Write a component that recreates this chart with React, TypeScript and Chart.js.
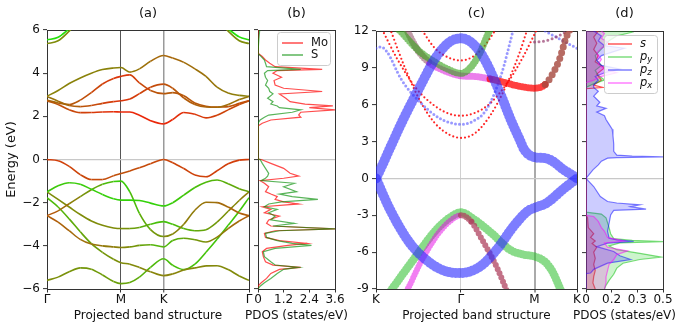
import React, { useEffect, useRef } from 'react';
import { Chart, registerables } from 'chart.js';
Chart.register(...registerables);

// ---------------- (a) band structure ----------------
const HS_A_LABELS = ['Γ', 'M', 'K', 'Γ'];
const HS_A_POS = [0, 1, 1.577, 2.732];
const K_PATH_A = [0, 0.15, 0.3, 0.45, 0.6, 0.75, 0.9, 1.0, 1.12, 1.25, 1.4, 1.577, 1.7, 1.85, 2.0, 2.15, 2.3, 2.45, 2.6, 2.732];
const CB_D = [2.93, 3.2, 3.52, 3.78, 4.0, 4.17, 4.24, 4.26, 4.05, 4.2, 4.55, 4.82, 4.7, 4.5, 4.2, 3.85, 3.35, 3.08, 2.97, 2.93];
const CB_A = [2.75, 2.62, 2.55, 2.75, 3.1, 3.5, 3.75, 3.85, 3.92, 3.55, 3.2, 3.05, 3.1, 2.95, 2.62, 2.47, 2.43, 2.45, 2.6, 2.72];
const CB_B = [2.92, 2.7, 2.5, 2.45, 2.5, 2.6, 2.68, 2.72, 2.8, 3.05, 3.35, 3.49, 3.3, 2.85, 2.55, 2.43, 2.42, 2.55, 2.78, 2.92];
const CB_C = [2.72, 2.55, 2.3, 2.17, 2.18, 2.2, 2.21, 2.2, 2.2, 2.05, 1.8, 1.65, 1.85, 2.18, 2.1, 1.93, 2.05, 2.3, 2.55, 2.72];
const CB_UP1 = [5.54, 5.66, 6.05, null, null, null, null, null, null, null, null, null, null, null, null, null, null, 6.05, 5.68, 5.54];
const CB_UP2 = [5.37, 5.5, 5.95, 6.5, null, null, null, null, null, null, null, null, null, null, null, null, 6.5, 5.95, 5.5, 5.37];
const VB_1 = [0, -0.06, -0.32, -0.7, -0.93, -0.93, -0.75, -0.65, -0.53, -0.38, -0.2, 0, -0.15, -0.42, -0.72, -0.8, -0.52, -0.2, -0.03, 0];
const VB_G = [-1.5, -1.22, -1.08, -1.15, -1.38, -1.62, -1.82, -1.88, -1.88, -1.9, -2.02, -2.15, -2.0, -1.65, -1.3, -1.05, -0.95, -1.12, -1.35, -1.5];
const VB_X = [-2.6, -2.38, -2.05, -1.72, -1.4, -1.15, -1.02, -1.0, -1.5, -2.5, -3.25, -3.57, -3.45, -3.0, -2.35, -1.98, -2.0, -2.2, -2.48, -2.6];
const VB_Y = [-1.5, -1.85, -2.2, -2.55, -2.85, -3.05, -3.17, -3.2, -3.2, -3.15, -3.0, -2.88, -3.0, -3.2, -3.3, -3.25, -2.9, -2.4, -1.9, -1.5];
const VB_W = [-2.6, -2.9, -3.3, -3.7, -3.92, -4.0, -4.05, -4.08, -4.05, -3.98, -3.95, -4.05, -3.75, -3.65, -3.72, -3.82, -3.6, -3.2, -2.85, -2.6];
const VB_Z1 = [-1.77, -2.2, -2.75, -3.35, -3.9, -4.3, -4.62, -4.78, -4.85, -5.0, -5.2, -5.38, -5.3, -5.12, -5.02, -4.93, -4.92, -5.1, -5.4, -5.6];
const VB_Z2 = [-5.6, -5.45, -5.2, -5.02, -5.08, -5.35, -5.65, -5.75, -5.7, -5.45, -5.0, -4.6, -4.9, -5.1, -4.85, -4.3, -3.7, -3.05, -2.4, -1.77];
// Mo weight of each band at Γ, M, K, Γ
const W_CB_D = [0.5, 0.5, 0.65, 0.5];
const W_CB_A = [0.6, 0.9, 0.7, 0.75];
const W_CB_B = [0.55, 0.9, 0.75, 0.55];
const W_CB_C = [0.7, 0.95, 0.95, 0.75];
const W_CB_UP1 = [0.03, 0.03, 0.03, 0.03];
const W_CB_UP2 = [0.45, 0.45, 0.45, 0.45];
const W_VB_1 = [0.85, 0.75, 0.8, 0.85];
const W_VB_G = [0.15, 0.1, 0.1, 0.35];
const W_VB_X = [0.75, 0.1, 0.45, 0.7];
const W_VB_Y = [0.45, 0.45, 0.15, 0.55];
const W_VB_W = [0.7, 0.5, 0.2, 0.7];
const W_VB_Z1 = [0.2, 0.45, 0.5, 0.45];
const W_VB_Z2 = [0.45, 0.35, 0.2, 0.15];

// ---------------- (b) PDOS Mo / S ----------------
const B_ENERGY = [6.0, 5.6, 5.45, 4.95, 4.92, 4.77, 4.61, 4.46, 4.3, 4.18, 4.12, 4.0, 3.81, 3.66, 3.45, 3.3, 3.15, 3.04, 2.84, 2.68, 2.57, 2.48, 2.4, 2.3, 2.19, 2.06, 1.96, 1.83, 1.68, 1.55, 0.02, 0, -0.18, -0.41, -0.64, -0.77, -0.87, -0.98, -1.1, -1.26, -1.49, -1.6, -1.72, -1.85, -1.96, -2.06, -2.19, -2.31, -2.47, -2.62, -2.8, -2.96, -3.08, -3.21, -3.3, -3.42, -3.61, -3.76, -3.89, -3.98, -4.12, -4.27, -4.5, -4.74, -4.89, -5.0, -5.09, -5.28, -5.51, -5.71, -5.87, -6.0];
const B_MO = [0, 0, 0, 0, 0, 0.2, 0.35, 0.55, 0.8, 3.0, 0.9, 0.7, 1.1, 0.75, 0.8, 1.2, 3.0, 1.0, 1.3, 1.5, 2.2, 3.5, 2.4, 3.6, 2.0, 1.9, 2.0, 0.6, 0.2, 0, 0, 0.15, 0.6, 1.2, 1.5, 1.9, 1.2, 0.1, 0.3, 0.5, 0.35, 0.6, 0.9, 0.8, 1.2, 1.9, 0.2, 0.6, 0.3, 1.0, 0.5, 0.4, 0.6, 3.6, 0.8, 0.3, 0.35, 1.0, 2.3, 1.4, 0.4, 0.2, 0.25, 0.35, 0.7, 2.0, 1.0, 0.6, 0.4, 0.15, 0, 0];
const B_S = [0.08, 0.04, 0, 0, 0, 0.15, 0.3, 0.35, 0.4, 2.0, 0.45, 0.3, 0.35, 0.45, 0.35, 0.5, 0.55, 0.7, 0.45, 0.7, 0.6, 0.9, 1.0, 2.0, 1.6, 0.5, 0.3, 0.1, 0, 0, 0, 0.1, 0.2, 0.35, 0.5, 0.45, 0.35, 0.15, 1.7, 1.2, 1.8, 1.0, 1.6, 2.8, 1.1, 0.5, 0.3, 0.9, 0.5, 0.8, 0.6, 1.7, 0.7, 3.6, 1.0, 0.35, 0.4, 0.9, 1.6, 2.5, 0.8, 0.25, 0.3, 0.6, 0.8, 1.9, 1.2, 0.9, 0.6, 0.3, 0.1, 0];
const B_TICKS = [0, 1.2, 2.4, 3.6];
const B_TICK_LABELS = ['0', '1.2', '2.4', '3.6'];

// ---------------- (c) fat bands ----------------
const HS_C_LABELS = ['K', 'Γ', 'M', 'K'];
const HS_C_POS = [0, 1.1547, 2.1547, 2.732];
const C_PISTAR_K = [0, 0.08, 0.2, 0.37, 0.6, 0.82, 1.0, 1.1547, 1.3, 1.456, 1.69, 1.83, 1.95, 2.02, 2.1547, 2.3, 2.4, 2.46, 2.55, 2.65, 2.732];
const C_PISTAR_E = [0, 1.0, 2.6, 4.8, 7.5, 9.9, 11.1, 11.4, 11.05, 9.9, 6.9, 4.8, 3.2, 2.3, 1.72, 1.65, 1.4, 1.14, 0.7, 0.33, 0];
const C_PI_K = [0, 0.19, 0.46, 0.74, 0.955, 1.1547, 1.415, 1.64, 1.87, 2.06, 2.1547, 2.32, 2.54, 2.732];
const C_PI_E = [0, -2.53, -5.26, -6.9, -7.57, -7.7, -7.17, -5.8, -3.9, -2.67, -2.4, -2.0, -0.9, 0];
const C_PY_K = [0.1, 0.23, 0.51, 0.82, 1.0, 1.1547, 1.3, 1.56, 1.82, 2.0, 2.1547, 2.3, 2.4, 2.5, 2.56];
const C_PY_E = [-10, -8.9, -6.6, -4.17, -3.2, -2.75, -3.2, -4.4, -5.8, -6.2, -6.35, -6.8, -7.6, -8.94, -9.8];
const C_PX_K = [0.35, 0.44, 0.6, 0.82, 1.0, 1.1547, 1.3, 1.415, 1.64, 1.76, 1.82];
const C_PX_E = [-9.8, -8.9, -6.9, -4.7, -3.5, -3.0, -3.55, -4.7, -7.2, -8.9, -9.8];
const C_SU_K = [0.4, 0.55, 0.73, 0.9, 1.05, 1.1547, 1.35, 1.55, 1.75, 1.95, 2.1547, 2.3, 2.4, 2.5, 2.58, 2.66];
const C_SU_E = [12.3, 10.6, 9.4, 8.85, 8.5, 8.35, 8.3, 8.1, 7.8, 7.5, 7.35, 7.65, 8.5, 9.8, 11.4, 12.4];
const C_SG_K = [0.22, 0.33, 0.45, 0.6, 0.82, 1.05, 1.1547, 1.28, 1.41, 1.54, 1.6];
const C_SG_E = [12.5, 12.0, 11.2, 10.3, 9.4, 8.7, 8.55, 9.0, 10.2, 12.0, 12.6];
const C_R1_K = [0.19, 0.4, 0.6, 0.8, 1.0, 1.1547, 1.35, 1.55, 1.75, 1.95, 2.06];
const C_R1_E = [12.2, 8.9, 6.3, 4.5, 3.55, 3.3, 3.7, 5.1, 7.3, 10.2, 12.2];
const C_R2_K = [0.06, 0.3, 0.55, 0.8, 1.0, 1.1547, 1.35, 1.55, 1.8, 2.0, 2.2];
const C_R2_E = [12.4, 9.6, 7.3, 5.9, 5.25, 5.1, 5.35, 6.1, 7.9, 9.9, 12.3];
const C_R3_K = [0.6, 0.8, 1.0, 1.1547, 1.3, 1.45, 1.65];
const C_R3_E = [12.3, 10.6, 9.8, 9.6, 9.85, 10.6, 12.3];
const C_B1_K = [0, 0.07, 0.15, 0.35, 0.6, 0.85, 1.0, 1.1547, 1.3, 1.5, 1.7, 1.87];
const C_B1_E = [10.6, 10.7, 10.3, 8.0, 6.2, 4.95, 4.55, 4.4, 4.6, 5.6, 8.4, 12.2];
const C_B2_K = [2.3, 2.45, 2.6, 2.732];
const C_B2_E = [12.0, 11.5, 11.0, 10.6];
const C_P2_K = [2.1547, 2.3, 2.45, 2.6, 2.7];
const C_P2_E = [11.1, 11.2, 11.5, 12.0, 12.3];

// ---------------- (d) orbital PDOS ----------------
const D_S_E = [12, 11.5, 11.0, 10.5, 10.0, 9.5, 9.0, 8.5, 8.0, 7.6, 7.4, 7.3, -3.0, -3.2, -4.0, -4.5, -4.8, -5.1, -5.3, -5.6, -6.0, -6.5, -7.0, -7.5, -8.0, -8.5, -9];
const D_S = [0.08, 0.05, 0.07, 0.05, 0.08, 0.06, 0.12, 0.07, 0.1, 0.05, 0.11, 0, 0, 0.01, 0.015, 0.05, 0.03, 0.06, 0.04, 0.07, 0.05, 0.06, 0.05, 0.06, 0.05, 0.045, 0.06];
const D_PY_E = [12, 11.9, 11.6, 11.2, 10.8, 10.4, 10.0, 9.6, 9.2, 8.8, 8.4, 8.0, 7.7, 7.4, -2.75, -2.9, -3.2, -3.6, -4.0, -4.5, -4.9, -5.05, -5.15, -5.25, -5.5, -5.8, -6.1, -6.4, -6.6, -6.9, -7.3, -7.8, -8.3, -8.7, -9];
const D_PY = [0.28, 0.3, 0.2, 0.15, 0.12, 0.09, 0.06, 0.07, 0.1, 0.06, 0.08, 0.12, 0.05, 0, 0, 0.1, 0.13, 0.14, 0.15, 0.16, 0.18, 0.3, 0.5, 0.22, 0.15, 0.2, 0.35, 0.49, 0.35, 0.24, 0.2, 0.18, 0.15, 0.13, 0.12];
const D_PZ_E = [12, 11.6, 11.2, 10.8, 10.6, 10.4, 10.0, 9.6, 9.2, 8.9, 8.6, 8.3, 8.0, 7.6, 7.4, 7.1, 6.7, 6.2, 5.9, 5.7, 5.4, 5.1, 4.8, 4.4, 4.0, 3.5, 2.8, 2.2, 1.9, 1.82, 1.76, 1.7, 1.65, 1.4, 1.1, 0.7, 0.3, 0, -0.66, -1.48, -1.88, -2.0, -2.15, -2.3, -2.5, -2.6, -2.97, -3.65, -4.3, -4.86, -5.0, -5.13, -5.27, -5.55, -5.95, -6.3, -6.6, -6.9, -7.4, -7.7, -7.75, -9];
const D_PZ = [0.05, 0.1, 0.08, 0.12, 0.25, 0.2, 0.1, 0.07, 0.1, 0.22, 0.12, 0.06, 0.08, 0.05, 0.05, 0.08, 0.05, 0.09, 0.07, 0.13, 0.07, 0.12, 0.13, 0.15, 0.17, 0.175, 0.18, 0.18, 0.2, 0.3, 0.5, 0.2, 0.14, 0.1, 0.08, 0.045, 0.02, 0, 0.05, 0.093, 0.14, 0.2, 0.35, 0.29, 0.39, 0.18, 0.16, 0.15, 0.14, 0.15, 0.2, 0.31, 0.14, 0.07, 0.18, 0.22, 0.29, 0.14, 0.05, 0.03, 0, 0];
const D_PX_E = [12, 11.8, 11.4, 11.0, 10.6, 10.2, 9.7, 9.3, 8.9, 8.6, 8.3, 8.0, 7.8, -3.0, -3.1, -3.5, -4.0, -4.3, -4.8, -5.1, -5.25, -5.6, -5.9, -6.2, -6.6, -7.0, -7.5, -8.0, -8.5, -9];
const D_PX = [0.1, 0.12, 0.1, 0.15, 0.1, 0.07, 0.1, 0.08, 0.12, 0.2, 0.1, 0.05, 0, 0, 0.05, 0.08, 0.1, 0.12, 0.14, 0.25, 0.12, 0.14, 0.27, 0.2, 0.18, 0.15, 0.14, 0.13, 0.13, 0.12];
const D_TICKS = [0, 1 / 6, 1 / 3, 0.5];
const D_TICK_LABELS = ['0', '0.2', '0.3', '0.5'];

// ---------------- helpers ----------------
const H = 328;
const FONT = 'DejaVu Sans';
const INK = '#111111';
const SPINE = '#333333';

const xy = (xs: number[], ys: (number | null)[]) => xs.map((x, i) => ({ x, y: ys[i] }));
const yx = (es: number[], vs: number[]) => es.map((e, i) => ({ x: vs[i], y: e }));

function moColor(w: number) {
  return `rgb(${Math.round(30 + 215 * w)},${Math.round(230 - 200 * w)},10)`;
}
function weightAt(k: number, w: number[]) {
  for (let i = 0; i < HS_A_POS.length - 1; i++) {
    const a = HS_A_POS[i], b = HS_A_POS[i + 1];
    if (k <= b) return w[i] + ((w[i + 1] - w[i]) * (k - a)) / (b - a);
  }
  return w[w.length - 1];
}

const zeroGrid = (ctx: any) => (ctx.tick && ctx.tick.value === 0 ? '#c8c8c8' : 'rgba(0,0,0,0)');

// top and right spines; right box mirrors the left axis width so titles centre on the plot
function frameAxes(side: number) {
  return {
    xTop: {
      type: 'linear', position: 'top', grid: { display: false, drawTicks: false },
      ticks: { display: false }, border: { display: true, color: SPINE, width: 1 },
      afterFit: (s: any) => { s.height = 0; },
    },
    yRight: {
      type: 'linear', position: 'right', grid: { display: false, drawTicks: false },
      ticks: { display: false }, border: { display: true, color: SPINE, width: 1 },
      afterFit: (s: any) => { s.width = side; },
    },
  };
}

function titles(top: string, bottom: string, padBottom: number) {
  return {
    legend: { display: false },
    tooltip: { enabled: false },
    title: { display: true, text: top, color: INK, font: { family: FONT, size: 13, weight: 'normal' }, padding: { top: 6, bottom: padBottom } },
    subtitle: { display: true, position: 'bottom', text: bottom, color: INK, font: { family: FONT, size: 12, weight: 'normal' }, padding: { top: 0, bottom: 4.6 } },
  };
}

function makeLegend(id: string, box: any, italic: boolean) {
  return {
    id,
    afterDatasetsDraw(chart: any) {
      const { ctx, chartArea } = chart;
      const x0 = Math.round(chartArea.right - box.right - box.w);
      const y0 = Math.round(chartArea.top + box.top);
      ctx.save();
      ctx.beginPath();
      if (ctx.roundRect) ctx.roundRect(x0 + 0.5, y0 + 0.5, box.w, box.h, 3);
      else ctx.rect(x0 + 0.5, y0 + 0.5, box.w, box.h);
      ctx.fillStyle = 'rgba(255,255,255,0.8)';
      ctx.fill();
      ctx.strokeStyle = '#cccccc';
      ctx.lineWidth = 1;
      ctx.stroke();
      chart.data.datasets.forEach((ds: any, i: number) => {
        const y = y0 + box.first + i * box.step;
        ctx.strokeStyle = ds.borderColor;
        ctx.lineWidth = 1.5;
        ctx.beginPath();
        ctx.moveTo(x0 + box.l0, y);
        ctx.lineTo(x0 + box.l1, y);
        ctx.stroke();
        const parts = String(ds.label).split('_');
        ctx.fillStyle = INK;
        ctx.textBaseline = 'middle';
        ctx.textAlign = 'left';
        ctx.font = `${italic ? 'italic ' : ''}11.5px "${FONT}"`;
        ctx.fillText(parts[0], x0 + box.tx, y);
        if (parts[1]) {
          const mw = ctx.measureText(parts[0]).width;
          ctx.font = `${italic ? 'italic ' : ''}8.5px "${FONT}"`;
          ctx.fillText(parts[1], x0 + box.tx + mw, y + 3);
        }
      });
      ctx.restore();
    },
  };
}

const tickFont = { family: FONT, size: 12 };
const noPad = { padding: { left: 0, right: 0, top: 0, bottom: 0 } };

// ---------------- configs ----------------
function configA() {
  const bands = [
    { e: CB_D, w: W_CB_D }, { e: CB_A, w: W_CB_A }, { e: CB_B, w: W_CB_B }, { e: CB_C, w: W_CB_C },
    { e: CB_UP2, w: W_CB_UP2 }, { e: CB_UP1, w: W_CB_UP1 },
    { e: VB_Z2, w: W_VB_Z2 }, { e: VB_Z1, w: W_VB_Z1 }, { e: VB_W, w: W_VB_W }, { e: VB_Y, w: W_VB_Y },
    { e: VB_X, w: W_VB_X }, { e: VB_G, w: W_VB_G }, { e: VB_1, w: W_VB_1 },
  ];
  return {
    type: 'line',
    data: {
      datasets: bands.map((b, i) => ({
        data: xy(K_PATH_A, b.e),
        borderColor: moColor(b.w[0]),
        borderWidth: 1.6,
        pointRadius: 0,
        cubicInterpolationMode: 'monotone',
        spanGaps: false,
        clip: 0,
        order: bands.length - i,
        segment: {
          borderColor: (ctx: any) => moColor(weightAt((ctx.p0.parsed.x + ctx.p1.parsed.x) / 2, b.w)),
        },
      })),
    },
    options: {
      responsive: false, animation: false, devicePixelRatio: 1, events: [],
      layout: noPad,
      plugins: titles('(a)', 'Projected band structure', 8.4),
      scales: {
        x: {
          type: 'linear', position: 'bottom', min: 0, max: 2.732,
          afterBuildTicks: (s: any) => { s.ticks = HS_A_POS.map((v) => ({ value: v })); },
          ticks: { callback: (_v: any, i: number) => HS_A_LABELS[i], font: tickFont, color: INK, padding: 0, autoSkip: false, maxRotation: 0 },
          grid: {
            color: (ctx: any) => (ctx.index === 1 ? '#555555' : ctx.index === 2 ? '#9a9a9a' : 'rgba(0,0,0,0)'),
            lineWidth: (ctx: any) => (ctx.index === 2 ? 1.5 : 1),
            tickLength: 3.5, tickColor: SPINE, tickWidth: 1,
          },
          border: { color: SPINE, width: 1 },
          afterFit: (s: any) => { s.height = 20; },
        },
        y: {
          type: 'linear', position: 'left', min: -6, max: 6,
          ticks: { stepSize: 2, font: tickFont, color: INK, padding: 3, callback: (v: any) => String(v).replace('-', '−') },
          grid: { color: zeroGrid, lineWidth: 1.2, tickLength: 4, tickColor: SPINE, tickWidth: 1 },
          border: { color: SPINE, width: 1 },
          title: { display: true, text: 'Energy (eV)', color: INK, font: { family: FONT, size: 13 }, padding: { top: 4, bottom: 0 } },
          afterFit: (s: any) => { s.width = 47; },
        },
        ...frameAxes(47),
      },
    },
  };
}

function dosYAxis(min: number, max: number, step: number, width: number) {
  return {
    type: 'linear', position: 'left', min, max,
    ticks: { display: false, stepSize: step },
    grid: { color: zeroGrid, lineWidth: 1.2, tickLength: 4, tickColor: SPINE, tickWidth: 1 },
    border: { color: SPINE, width: 1 },
    afterFit: (s: any) => { s.width = width; },
  };
}
function dosXAxis(max: number, ticks: number[], labels: string[]) {
  return {
    type: 'linear', position: 'bottom', min: 0, max,
    afterBuildTicks: (s: any) => { s.ticks = ticks.map((v) => ({ value: v })); },
    ticks: { callback: (_v: any, i: number) => labels[i], font: tickFont, color: INK, padding: 0, autoSkip: false, maxRotation: 0 },
    grid: { drawOnChartArea: false, tickLength: 3.5, tickColor: SPINE, tickWidth: 1 },
    border: { color: SPINE, width: 1 },
    afterFit: (s: any) => { s.height = 20; },
  };
}

function configB() {
  return {
    type: 'line',
    data: {
      datasets: [
        { label: 'Mo', data: yx(B_ENERGY, B_MO), borderColor: 'rgba(255,0,0,0.7)', borderWidth: 1.2, pointRadius: 0, tension: 0, clip: 0, order: 2 },
        { label: 'S', data: yx(B_ENERGY, B_S), borderColor: 'rgba(0,140,0,0.65)', borderWidth: 1.2, pointRadius: 0, tension: 0, clip: 0, order: 1 },
      ],
    },
    options: {
      indexAxis: 'y',
      responsive: false, animation: false, devicePixelRatio: 1, events: [],
      layout: noPad,
      plugins: titles('(b)', 'PDOS (states/eV)', 8.4),
      scales: { x: dosXAxis(3.6, B_TICKS, B_TICK_LABELS), y: dosYAxis(-6, 6, 2, 32), ...frameAxes(32) },
    },
    plugins: [makeLegend('legB', { right: 5, top: 2, w: 53, h: 33, first: 11, step: 12, l0: 5, l1: 26, tx: 34 }, false)],
  };
}

function dotted(color: string, width: number, gap: number) {
  return { borderColor: color, borderWidth: width, borderDash: [0, gap], borderCapStyle: 'round', borderJoinStyle: 'round' };
}

function configC() {
  const bands = [
    { k: C_R1_K, e: C_R1_E, st: dotted('rgba(255,0,0,0.85)', 2.2, 4) },
    { k: C_R2_K, e: C_R2_E, st: dotted('rgba(255,0,0,0.85)', 2.2, 4) },
    { k: C_R3_K, e: C_R3_E, st: dotted('rgba(255,0,0,0.85)', 2.2, 4) },
    { k: C_B1_K, e: C_B1_E, st: dotted('rgba(70,70,255,0.55)', 3, 4) },
    { k: C_B2_K, e: C_B2_E, st: dotted('rgba(70,70,255,0.55)', 3, 4) },
    { k: C_P2_K, e: C_P2_E, st: dotted('rgba(150,60,110,0.7)', 3, 4.5) },
    {
      k: C_SU_K, e: C_SU_E, st: dotted('rgba(215,0,215,0.5)', 7, 3),
      seg: {
        borderColor: (ctx: any) => {
          const xm = (ctx.p0.parsed.x + ctx.p1.parsed.x) / 2;
          return xm < 0.75 ? 'rgba(150,90,110,0.6)' : xm < 1.6 ? 'rgba(215,0,215,0.5)' : xm < 2.25 ? 'rgba(255,0,0,0.75)' : 'rgba(165,70,60,0.8)';
        },
        borderDash: (ctx: any) => (ctx.p0.parsed.x >= 2.2 ? [0, 6] : undefined),
      },
    },
    { k: C_SG_K, e: C_SG_E, st: dotted('rgba(50,160,20,0.6)', 7, 3) },
    { k: C_PY_K, e: C_PY_E, st: dotted('rgba(40,190,40,0.55)', 8, 3) },
    {
      k: C_PX_K, e: C_PX_E, st: dotted('rgba(230,0,230,0.5)', 6, 3),
      seg: {
        borderColor: (ctx: any) => (ctx.p0.parsed.x >= 1.1547 ? 'rgba(175,65,95,0.75)' : undefined),
        borderDash: (ctx: any) => (ctx.p0.parsed.x >= 1.3 ? [0, 4.5] : undefined),
      },
    },
    { k: C_PI_K, e: C_PI_E, st: dotted('rgba(45,45,255,0.62)', 10, 3.5) },
    { k: C_PISTAR_K, e: C_PISTAR_E, st: dotted('rgba(45,45,255,0.62)', 10, 3.5) },
  ];
  return {
    type: 'line',
    data: {
      datasets: bands.map((b: any, i) => ({
        data: xy(b.k, b.e),
        ...b.st,
        segment: b.seg || {},
        pointRadius: 0,
        cubicInterpolationMode: 'monotone',
        clip: 0,
        order: bands.length - i,
      })),
    },
    options: {
      responsive: false, animation: false, devicePixelRatio: 1, events: [],
      layout: noPad,
      plugins: titles('(c)', 'Projected band structure', 9.4),
      scales: {
        x: {
          type: 'linear', position: 'bottom', min: 0, max: 2.732,
          afterBuildTicks: (s: any) => { s.ticks = HS_C_POS.map((v) => ({ value: v })); },
          ticks: { callback: (_v: any, i: number) => HS_C_LABELS[i], font: tickFont, color: INK, padding: 0, autoSkip: false, maxRotation: 0 },
          grid: {
            color: (ctx: any) => (ctx.index === 1 ? '#d0d0d0' : ctx.index === 2 ? '#aaaaaa' : 'rgba(0,0,0,0)'),
            lineWidth: (ctx: any) => (ctx.index === 2 ? 2 : 1),
            tickLength: 3.5, tickColor: SPINE, tickWidth: 1,
          },
          border: { color: SPINE, width: 1 },
          afterFit: (s: any) => { s.height = 20; },
        },
        y: {
          type: 'linear', position: 'left', min: -9, max: 12,
          ticks: { stepSize: 3, font: tickFont, color: INK, padding: 3 },
          grid: { color: zeroGrid, lineWidth: 1.2, tickLength: 4, tickColor: SPINE, tickWidth: 1 },
          border: { color: SPINE, width: 1 },
          afterFit: (s: any) => { s.width = 30; },
        },
        ...frameAxes(30),
      },
    },
  };
}

function configD() {
  const series = [
    { label: 's', e: D_S_E, v: D_S, line: 'rgba(255,0,0,0.65)', fill: 'rgba(255,0,0,0.2)' },
    { label: 'p_y', e: D_PY_E, v: D_PY, line: 'rgba(0,190,0,0.5)', fill: 'rgba(0,200,0,0.2)' },
    { label: 'p_z', e: D_PZ_E, v: D_PZ, line: 'rgba(0,0,255,0.5)', fill: 'rgba(0,0,255,0.2)' },
    { label: 'p_x', e: D_PX_E, v: D_PX, line: 'rgba(255,0,255,0.5)', fill: 'rgba(255,0,255,0.2)' },
  ];
  return {
    type: 'line',
    data: {
      datasets: series.map((s, i) => ({
        label: s.label,
        data: yx(s.e, s.v),
        borderColor: s.line,
        backgroundColor: s.fill,
        borderWidth: 1.2,
        fill: 'origin',
        pointRadius: 0,
        tension: 0,
        clip: 0,
        order: series.length - i,
      })),
    },
    options: {
      indexAxis: 'y',
      responsive: false, animation: false, devicePixelRatio: 1, events: [],
      layout: noPad,
      plugins: titles('(d)', 'PDOS (states/eV)', 9.4),
      scales: { x: dosXAxis(0.5, D_TICKS, D_TICK_LABELS), y: dosYAxis(-9, 12, 3, 32), ...frameAxes(32) },
    },
    plugins: [makeLegend('legD', { right: 6, top: 4, w: 53, h: 58, first: 9, step: 13, l0: 4, l1: 28, tx: 36 }, true)],
  };
}

function ChartCanvas({ left, width, make }: { left: number; width: number; make: () => any }) {
  const ref = useRef<HTMLCanvasElement>(null);
  useEffect(() => {
    const chart = new Chart(ref.current as HTMLCanvasElement, make());
    return () => chart.destroy();
  }, []);
  return (
    <canvas
      ref={ref}
      width={width}
      height={H}
      style={{ position: 'absolute', left, top: 0, width, height: H, display: 'block' }}
    />
  );
}

export default function App() {
  return (
    <div style={{ position: 'fixed', left: 0, top: 0, width: 684, height: H, overflow: 'hidden', background: '#ffffff' }}>
      <ChartCanvas left={0} width={296} make={configA} />
      <ChartCanvas left={226} width={141} make={configB} />
      <ChartCanvas left={346} width={261} make={configC} />
      <ChartCanvas left={554} width={141} make={configD} />
    </div>
  );
}
